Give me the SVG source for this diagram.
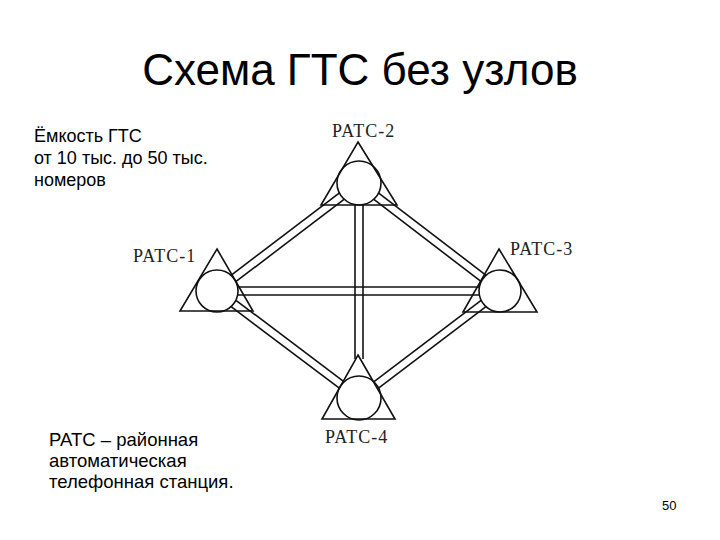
<svg xmlns="http://www.w3.org/2000/svg" width="720" height="540" viewBox="0 0 720 540">
<style>
.t{font-family:"Liberation Sans",Arial,sans-serif;fill:#000}
.lbl{font-family:"Liberation Serif","Times New Roman",serif;font-size:18px;fill:#222;letter-spacing:1px}
.ln{stroke:#111;stroke-width:1.6;fill:none}
.circ{fill:#fff;stroke:#111;stroke-width:1.6}
.tri{fill:none;stroke:#111;stroke-width:1.6;stroke-linejoin:miter}
</style>
<rect width="720" height="540" fill="#fff"/>
<text class="t" x="360" y="85" font-size="44" text-anchor="middle">Схема ГТС без узлов</text>
<g id="note-top" class="t" font-size="18">
<text x="34" y="142">Ёмкость ГТС</text>
<text x="34" y="164">от 10 тыс. до 50 тыс.</text>
<text x="34" y="186">номеров</text>
</g>
<g id="note-bottom" class="t" font-size="18.5">
<text x="49" y="446">РАТС – районная</text>
<text x="49" y="467">автоматическая</text>
<text x="49" y="488">телефонная станция.</text>
</g>
<text class="t" x="662" y="510" font-size="13">50</text>
<g id="connectors">
<line class="ln" x1="219.4" y1="294.2" x2="361.4" y2="186.2"/>
<line class="ln" x1="214.6" y1="287.8" x2="356.6" y2="179.8"/>
<line class="ln" x1="356.6" y1="186.2" x2="497.6" y2="294.2"/>
<line class="ln" x1="361.4" y1="179.8" x2="502.4" y2="287.8"/>
<line class="ln" x1="214.6" y1="294.2" x2="356.6" y2="401.2"/>
<line class="ln" x1="219.4" y1="287.8" x2="361.4" y2="394.8"/>
<line class="ln" x1="502.4" y1="294.2" x2="361.4" y2="401.2"/>
<line class="ln" x1="497.6" y1="287.8" x2="356.6" y2="394.8"/>
<line class="ln" x1="217" y1="287" x2="500" y2="287"/>
<line class="ln" x1="217" y1="295" x2="500" y2="295"/>
<line class="ln" x1="355" y1="200" x2="355" y2="359"/>
<line class="ln" x1="363" y1="200" x2="363" y2="359"/>
</g>
<g id="patc-2">
<circle class="circ" cx="359" cy="183" r="22"/>
<polygon class="tri" points="358,142 397,205 321,205"/>
<text class="lbl" x="332" y="137">PATC-2</text>
</g>
<g id="patc-1">
<circle class="circ" cx="217" cy="291" r="21"/>
<polygon class="tri" points="217,249 253,311 180,311"/>
<text class="lbl" x="133" y="262">PATC-1</text>
</g>
<g id="patc-3">
<circle class="circ" cx="500" cy="291" r="21"/>
<polygon class="tri" points="499,249 537,312 463,312"/>
<text class="lbl" x="510" y="255">PATC-3</text>
</g>
<g id="patc-4">
<circle class="circ" cx="359" cy="398" r="22"/>
<polygon class="tri" points="358,355 395,419 322,419"/>
<text class="lbl" x="325" y="443">PATC-4</text>
</g>
</svg>
